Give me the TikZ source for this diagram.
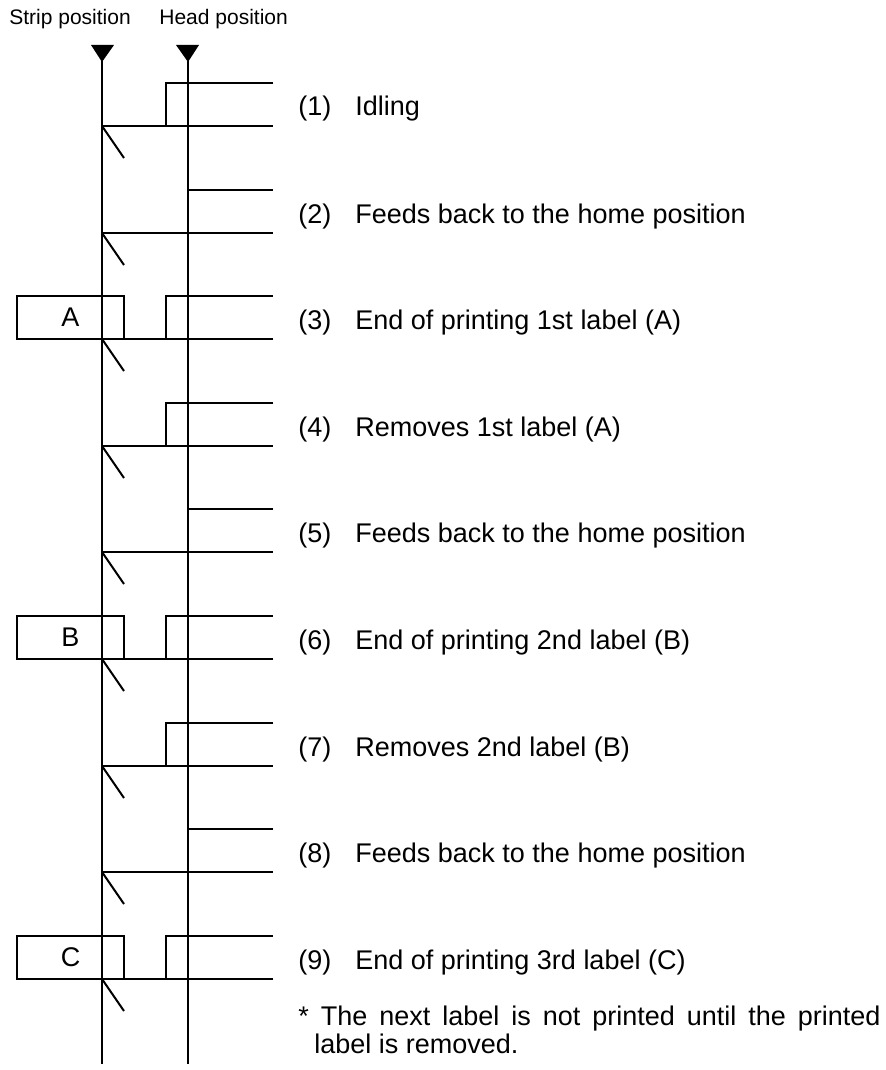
\documentclass[tikz,border=0pt]{standalone}
\usepackage{fontspec}
\setmainfont{Liberation Sans}
\usetikzlibrary{positioning}

\begin{document}
\begin{tikzpicture}[x=0.5pt, y=-0.5pt,
    wire/.style={line width=1pt},
    marker/.style={fill=black},
    labelbox/.style={draw, line width=0.75pt, minimum width=53.5pt,
                     minimum height=21.5pt, inner sep=0pt,
                     font=\fontsize{13.5}{16}\selectfont},
    steptext/.style={anchor=base west, inner sep=0pt,
                     font=\fontsize{13.5}{16}\selectfont},
    header/.style={anchor=base west, inner sep=0pt,
                   font=\fontsize{10.5}{12}\selectfont}
  ]
  \useasboundingbox (0,0) rectangle (886,1070);

  % Headers and position markers
  \node[header] (striphead) at (9,25)   {Strip position};
  \node[header] (headhead)  at (159,25) {Head position};
  \fill[marker] (91,45)  -- (114,45) -- (102,62) -- cycle;
  \fill[marker] (176,45) -- (199,45) -- (188,62) -- cycle;
  \draw[wire] (102,45) -- (102,1064);
  \draw[wire] (188,45) -- (188,1064);

  % (1) Idling
  \draw[wire] (102,126) -- (273,126);
  \draw[wire] (166,126) -- (166,83) -- (273,83);
  \draw[wire] (102,126) -- (124,158);
  \node[steptext] (n1) at (298,116) {(1)};
  \node[steptext] (t1) at (355,116) {Idling};

  % (2) Feeds back
  \draw[wire] (188,190) -- (273,190);
  \draw[wire] (102,233) -- (273,233);
  \draw[wire] (102,233) -- (124,265);
  \node[steptext] (n2) at (298,223) {(2)};
  \node[steptext] (t2) at (355,223) {Feeds back to the home position};

  % (3) Printing A
  \node[labelbox] (boxA) at (70.5,317.5) {A};
  \draw[wire] (102,339) -- (273,339);
  \draw[wire] (166,339) -- (166,296) -- (273,296);
  \draw[wire] (102,339) -- (124,371);
  \node[steptext] (n3) at (298,329) {(3)};
  \node[steptext] (t3) at (355,329) {End of printing 1st label (A)};

  % (4) Removes A
  \draw[wire] (102,446) -- (273,446);
  \draw[wire] (166,446) -- (166,403) -- (273,403);
  \draw[wire] (102,446) -- (124,478);
  \node[steptext] (n4) at (298,436) {(4)};
  \node[steptext] (t4) at (355,436) {Removes 1st label (A)};

  % (5) Feeds back
  \draw[wire] (188,509) -- (273,509);
  \draw[wire] (102,552) -- (273,552);
  \draw[wire] (102,552) -- (124,584);
  \node[steptext] (n5) at (298,542) {(5)};
  \node[steptext] (t5) at (355,542) {Feeds back to the home position};

  % (6) Printing B
  \node[labelbox] (boxB) at (70.5,637.5) {B};
  \draw[wire] (102,659) -- (273,659);
  \draw[wire] (166,659) -- (166,616) -- (273,616);
  \draw[wire] (102,659) -- (124,691);
  \node[steptext] (n6) at (298,649) {(6)};
  \node[steptext] (t6) at (355,649) {End of printing 2nd label (B)};

  % (7) Removes B
  \draw[wire] (102,766) -- (273,766);
  \draw[wire] (166,766) -- (166,723) -- (273,723);
  \draw[wire] (102,766) -- (124,798);
  \node[steptext] (n7) at (298,756) {(7)};
  \node[steptext] (t7) at (355,756) {Removes 2nd label (B)};

  % (8) Feeds back
  \draw[wire] (188,829) -- (273,829);
  \draw[wire] (102,872) -- (273,872);
  \draw[wire] (102,872) -- (124,904);
  \node[steptext] (n8) at (298,862) {(8)};
  \node[steptext] (t8) at (355,862) {Feeds back to the home position};

  % (9) Printing C
  \node[labelbox] (boxC) at (70.5,957.5) {C};
  \draw[wire] (102,979) -- (273,979);
  \draw[wire] (166,979) -- (166,936) -- (273,936);
  \draw[wire] (102,979) -- (124,1011);
  \node[steptext] (n9) at (298,969) {(9)};
  \node[steptext] (t9) at (355,969) {End of printing 3rd label (C)};

  % Note
  \node[steptext] (note1) at (298,1025)
       {\makebox[291pt][s]{* The next label is not printed until the printed}};
  \node[steptext] (note2) at (314,1053) {label is removed.};
\end{tikzpicture}
\end{document}
